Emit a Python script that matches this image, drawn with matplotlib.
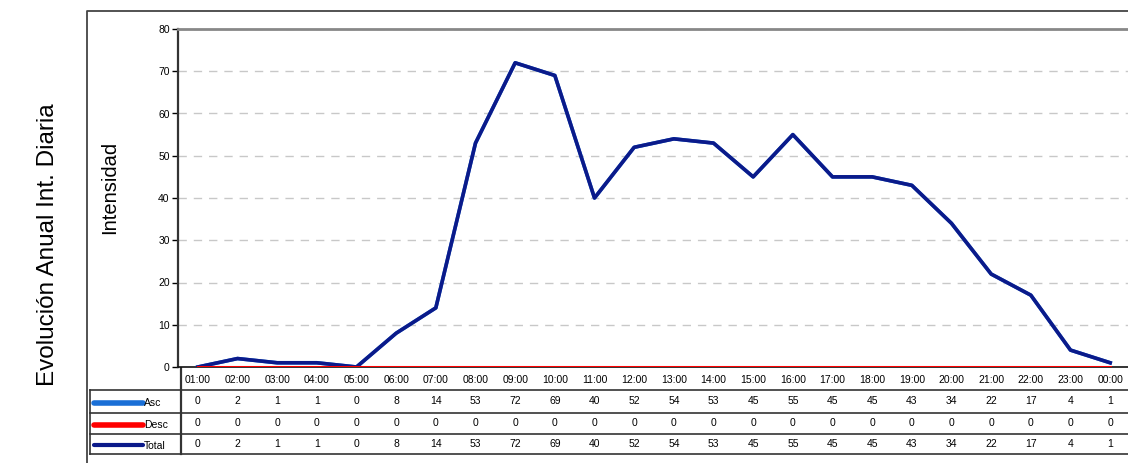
import matplotlib
matplotlib.use("Agg")
import matplotlib.pyplot as plt
import matplotlib.transforms as mtransforms

plt.rcParams["font.family"] = ["Liberation Sans", "DejaVu Sans"]

hours = ["01:00", "02:00", "03:00", "04:00", "05:00", "06:00", "07:00", "08:00",
         "09:00", "10:00", "11:00", "12:00", "13:00", "14:00", "15:00", "16:00",
         "17:00", "18:00", "19:00", "20:00", "21:00", "22:00", "23:00", "00:00"]
asc = [0, 2, 1, 1, 0, 8, 14, 53, 72, 69, 40, 52, 54, 53, 45, 55, 45, 45, 43, 34, 22, 17, 4, 1]
desc = [0] * 24
total = [0, 2, 1, 1, 0, 8, 14, 53, 72, 69, 40, 52, 54, 53, 45, 55, 45, 45, 43, 34, 22, 17, 4, 1]
series_names = ["Asc", "Desc", "Total"]
series_colors = ["#1a6fd6", "#ff0000", "#0b1a8a"]

W, H = 1128, 463
fig = plt.figure(figsize=(W / 100, H / 100), dpi=100)

# overlay in pixel coords for frame + table
ov = fig.add_axes([0, 0, 1, 1])
ov.set_xlim(0, W)
ov.set_ylim(H, 0)
ov.axis("off")

# main plot area (pixels: left 178, right 1130, top 29, bottom 367)
ax = fig.add_axes([178 / W, (H - 367) / H, (1130 - 178) / W, (367 - 29) / H])
x = list(range(len(hours)))
ax.plot(x, asc, color=series_colors[0], lw=2.6, zorder=3)
ax.plot(x, total, color=series_colors[2], lw=2.6, zorder=4)
ax.plot(x, desc, color=series_colors[1], lw=2.2, zorder=5)
ax.set_xlim(-0.5, 23.5)
ax.set_ylim(0, 80)
ax.set_yticks(range(0, 81, 10))
ax.tick_params(axis="y", labelsize=7.5, length=4, width=1, pad=2)
ax.set_xticks(x)
ax.set_xticklabels(hours)
ax.tick_params(axis="x", labelsize=7.5, length=0, pad=6)
ax.grid(axis="y", color="#c8c8c8", linestyle=(0, (6, 5)), lw=1)
ax.spines["left"].set_color("#333333")
ax.spines["left"].set_linewidth(1.6)
ax.spines["bottom"].set_color("#111111")
ax.spines["bottom"].set_linewidth(1.2)
ax.spines["top"].set_color("#888888")
ax.spines["top"].set_linewidth(2)
ax.spines["right"].set_visible(False)

# outer frame
ov.plot([87, 87, W], [H, 11, 11], color="#444444", lw=1.3)

# titles
fig.text(48 / W, 1 - 245 / H, "Evolución Anual Int. Diaria", rotation=90,
         ha="center", va="center", fontsize=17.5)
fig.text(110 / W, 1 - 187 / H, "Intensidad", rotation=90,
         ha="center", va="center", fontsize=14.5)

# data table
row_lines = [390, 413, 434, 454]
for yy in row_lines:
    ov.plot([90, W], [yy, yy], color="#333333", lw=1.2)
ov.plot([90, 90], [390, 454], color="#333333", lw=1.2)
ov.plot([181, 181], [367, 454], color="#333333", lw=1.6)

blend = mtransforms.blended_transform_factory(ax.transData, ov.transData)
rows = [asc, desc, total]
key_widths = [4, 4, 3]
for i, (name, vals) in enumerate(zip(series_names, rows)):
    yc = (row_lines[i] + row_lines[i + 1]) / 2
    ov.plot([94, 143], [yc + 1, yc + 1], color=series_colors[i], lw=key_widths[i],
            solid_capstyle="round")
    ov.text(144, yc + 2, name, fontsize=7.5, va="center", ha="left")
    for xi, v in zip(x, vals):
        ov.text(xi, yc, str(v), transform=blend, fontsize=7.5,
                ha="center", va="center", clip_on=False)

fig.savefig("out.png", dpi=100)
